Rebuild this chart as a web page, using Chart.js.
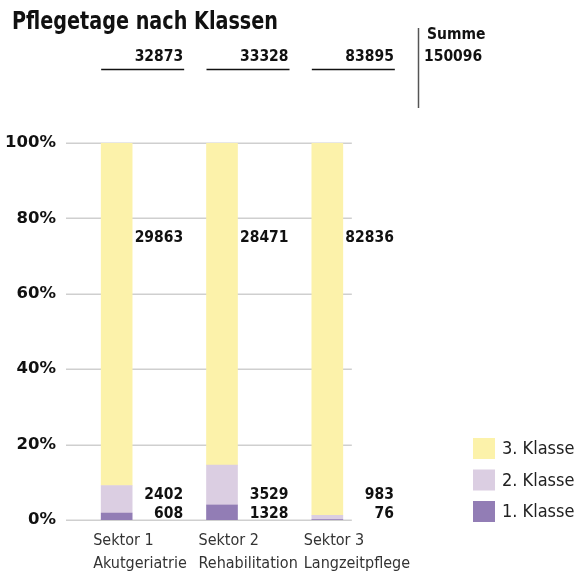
<!DOCTYPE html>
<html>
<head>
<meta charset="utf-8">
<script src="https://cdn.jsdelivr.net/npm/chart.js@4"></script>
<style>
  html, body { margin:0; padding:0; background:#fff; }
</style>
</head>
<body>
<canvas id="myChart" width="588" height="575"></canvas>
<script>
// Daten
var sectors = [["Sektor 1","Akutgeriatrie"],["Sektor 2","Rehabilitation"],["Sektor 3","Langzeitpflege"]]
var klasse1 = [608, 1328, 76]
var klasse2 = [2402, 3529, 983]
var klasse3 = [29863, 28471, 82836]
var yTicks = [0, 20, 40, 60, 80, 100]
var legendNames = ["3. Klasse", "2. Klasse", "1. Klasse"]

var colors = { k1: "#927db5", k2: "#dbcee2", k3: "#fcf2aa" }
var COND = '"DejaVu Sans Condensed", "DejaVu Sans", sans-serif'

// totals per sector
var totals = klasse1.map(function(v, i){ return v + klasse2[i] + klasse3[i] })
var grand = totals.reduce(function(a, b){ return a + b }, 0)

function pct(arr){
    return arr.map(function(v, i){ return v / totals[i] * 100 })
}

var BAR = 31

var extras = {
    id: 'extras',
    beforeDatasetsDraw: function(chart){
        var ctx = chart.ctx
        var x = chart.scales.x, y = chart.scales.y
        var right = x.getPixelForValue(sectors.length - 1) + BAR / 2 + 9
        ctx.save()
        ctx.strokeStyle = "#cfcfcf"
        ctx.lineWidth = 1.5
        yTicks.forEach(function(t){
            var py = Math.round(y.getPixelForValue(t)) + 0.25
            ctx.beginPath()
            ctx.moveTo(chart.chartArea.left + 2, py)
            ctx.lineTo(right, py)
            ctx.stroke()
        })
        ctx.restore()
    },
    afterDraw: function(chart){
        var ctx = chart.ctx
        var x = chart.scales.x, y = chart.scales.y
        ctx.save()

        // title
        ctx.fillStyle = "#111"
        ctx.textBaseline = "alphabetic"
        ctx.textAlign = "left"
        ctx.font = "bold 25px " + COND
        ctx.fillText("Pflegetage nach Klassen", 12, 29, 266)

        // totals row
        ctx.font = "bold 15.5px " + COND
        ctx.textBaseline = "middle"
        sectors.forEach(function(s, i){
            var cx = x.getPixelForValue(i)
            var rx = cx + 66.5
            ctx.textAlign = "right"
            ctx.fillStyle = "#111"
            ctx.fillText(String(totals[i]), rx, 57)
            ctx.strokeStyle = "#111"
            ctx.lineWidth = 1.5
            ctx.beginPath()
            ctx.moveTo(cx - BAR / 2, 69.5)
            ctx.lineTo(rx + 1, 69.5)
            ctx.stroke()

            // value labels
            ctx.fillText(String(klasse3[i]), rx, y.getPixelForValue(74.9))
            ctx.fillText(String(klasse2[i]), rx, y.getPixelForValue(6.6))
            ctx.fillText(String(klasse1[i]), rx, y.getPixelForValue(1.5))
        })

        // Summe
        ctx.strokeStyle = "#555"
        ctx.lineWidth = 1.5
        ctx.beginPath()
        ctx.moveTo(418.5, 28)
        ctx.lineTo(418.5, 108)
        ctx.stroke()
        ctx.textAlign = "left"
        ctx.fillStyle = "#111"
        ctx.fillText("Summe", 427, 35)
        ctx.fillText(String(grand), 424, 57)

        // legend
        var legColors = [colors.k3, colors.k2, colors.k1]
        ctx.font = "18px " + COND
        legendNames.forEach(function(name, i){
            var top = 438 + i * 31.5
            ctx.fillStyle = legColors[i]
            ctx.fillRect(473, top, 22, 21)
            ctx.fillStyle = "#222"
            ctx.fillText(name, 502, top + 11.5)
        })
        ctx.restore()
    }
}

var myChart = document.getElementById("myChart").getContext('2d')

var chart = new Chart(myChart, {
    type: 'bar',
    data: {
        labels: sectors,
        datasets: [
            { label: "1. Klasse", data: pct(klasse1), backgroundColor: colors.k1, barThickness: BAR },
            { label: "2. Klasse", data: pct(klasse2), backgroundColor: colors.k2, barThickness: BAR },
            { label: "3. Klasse", data: pct(klasse3), backgroundColor: colors.k3, barThickness: BAR }
        ]
    },
    options: {
        responsive: false,
        animation: false,
        devicePixelRatio: 1,
        layout: { padding: { top: 143, right: 208, bottom: 0, left: 0 } },
        plugins: {
            legend: { display: false },
            tooltip: { enabled: false }
        },
        scales: {
            x: {
                stacked: true,
                grid: { display: false, drawTicks: false },
                border: { display: false },
                ticks: {
                    align: 'start',
                    maxRotation: 0,
                    minRotation: 0,
                    autoSkip: false,
                    labelOffset: -(BAR / 2 + 8),
                    padding: 10,
                    color: "#333",
                    font: { family: COND, size: 16, lineHeight: 1.4 }
                },
                afterFit: function(s){ s.height = 55 }
            },
            y: {
                stacked: true,
                min: 0,
                max: 100,
                grid: { display: false, drawTicks: false },
                border: { display: false },
                afterBuildTicks: function(s){ s.ticks = yTicks.map(function(v){ return { value: v } }) },
                ticks: {
                    padding: 8,
                    color: "#111",
                    font: { family: '"DejaVu Sans", sans-serif', size: 16.5, weight: 'bold' },
                    callback: function(v){ return v + "%" }
                },
                afterFit: function(s){ s.width = 64 }
            }
        }
    },
    plugins: [extras]
})
</script>
</body>
</html>
